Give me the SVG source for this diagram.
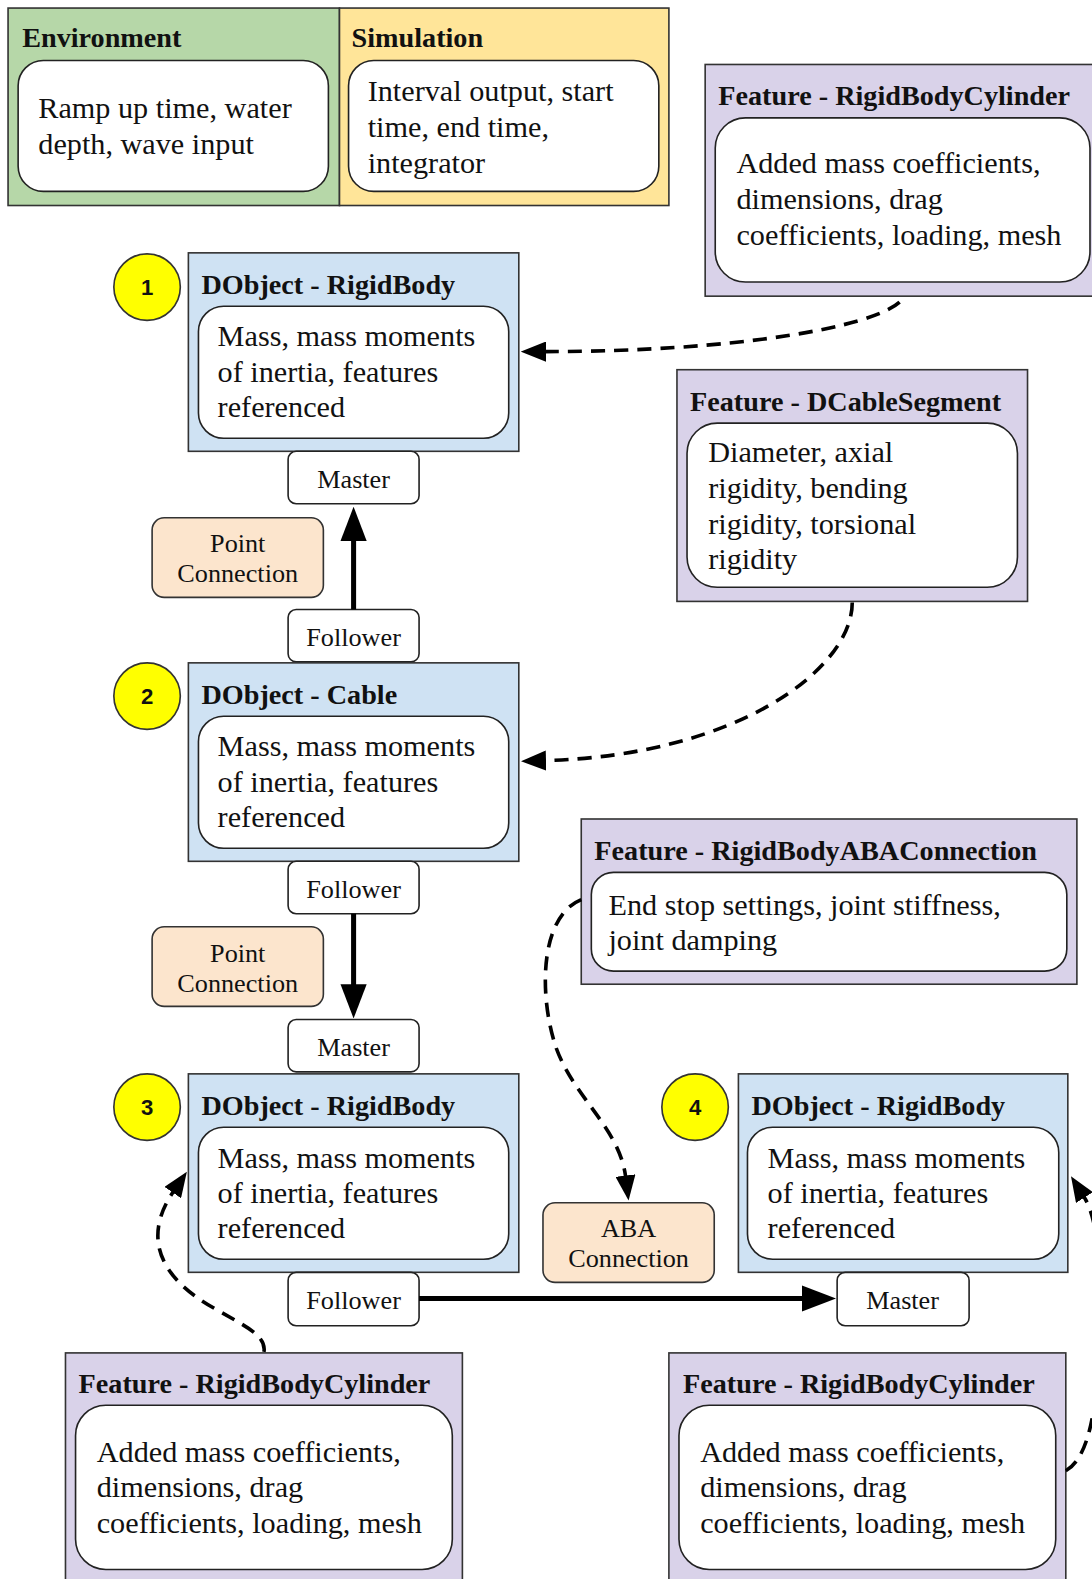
<svg xmlns="http://www.w3.org/2000/svg" width="1092" height="1579" viewBox="0 0 1092 1579">
<style>
.box{stroke:#333;stroke-width:1.6}
.env{fill:#b6d7a8}.sim{fill:#ffe599}.obj{fill:#cfe2f3}.feat{fill:#d9d2e9}.conn{fill:#fce5cd}
.inner{fill:#fff;stroke:#222;stroke-width:1.6}
.lbl{fill:#fff;stroke:#222;stroke-width:1.6}
.num{fill:#ffff00;stroke:#333;stroke-width:1.6}
.t{font-family:"Liberation Serif",serif;font-size:30px;fill:#111}
.h{font-family:"Liberation Serif",serif;font-size:28px;font-weight:bold;fill:#111}
.l{font-family:"Liberation Serif",serif;font-size:26px;fill:#111;text-anchor:middle}
.n{font-family:"Liberation Sans",sans-serif;font-size:22px;font-weight:bold;fill:#111;text-anchor:middle}
.solid{fill:none;stroke:#000;stroke-width:5}
.dash{fill:none;stroke:#000;stroke-width:3.6;stroke-dasharray:14 9}
</style>
<defs>
<marker id="aS" viewBox="0 0 34 26" markerWidth="34" markerHeight="26" refX="1" refY="13" orient="auto" markerUnits="userSpaceOnUse"><path d="M0,0 L34,13 L0,26 z" fill="#000"/></marker>
<marker id="aD" viewBox="0 0 25 20" markerWidth="25" markerHeight="20" refX="1" refY="10" orient="auto" markerUnits="userSpaceOnUse"><path d="M0,0 L25,10 L0,20 z" fill="#000"/></marker>
</defs>
<rect width="1092" height="1579" fill="#fff"/>
<g transform="scale(1.00738)">
<g id="environment">
<rect class="box env" x="8" y="8" width="329" height="196"/>
<text class="h" x="22" y="47">Environment</text>
<rect class="inner" x="18" y="60" width="308" height="130" rx="25"/>
<text class="t" x="38" y="117">Ramp up time, water</text>
<text class="t" x="38" y="153">depth, wave input</text>
</g>
<g id="simulation">
<rect class="box sim" x="337" y="8" width="327" height="196"/>
<text class="h" x="349" y="47">Simulation</text>
<rect class="inner" x="346" y="60" width="308" height="130" rx="25"/>
<text class="t" x="365" y="100">Interval output, start</text>
<text class="t" x="365" y="136">time, end time,</text>
<text class="t" x="365" y="172">integrator</text>
</g>
<g id="feature-cylinder-top">
<rect class="box feat" x="700" y="64" width="420" height="230"/>
<text class="h" x="713" y="104">Feature - RigidBodyCylinder</text>
<rect class="inner" x="710" y="117" width="372" height="163" rx="30"/>
<text class="t" x="731" y="172">Added mass coefficients,</text>
<text class="t" x="731" y="207">dimensions, drag</text>
<text class="t" x="731" y="243">coefficients, loading, mesh</text>
</g>
<g id="dobject-1">
<circle class="num" cx="146" cy="285" r="33"/>
<text class="n" x="146" y="293">1</text>
<rect class="box obj" x="187" y="251" width="328" height="197"/>
<text class="h" x="200" y="292">DObject - RigidBody</text>
<rect class="inner" x="197" y="304" width="308" height="131" rx="25"/>
<text class="t" x="216" y="343">Mass, mass moments</text>
<text class="t" x="216" y="379">of inertia, features</text>
<text class="t" x="216" y="414">referenced</text>
</g>
<g id="master-1">
<rect class="lbl" x="286" y="448" width="130" height="52" rx="8"/>
<text class="l" x="351" y="484">Master</text>
</g>
<g id="point-connection-1">
<rect class="box conn" x="151" y="514" width="170" height="79" rx="12"/>
<text class="l" x="236" y="548">Point</text>
<text class="l" x="236" y="578">Connection</text>
</g>
<g id="follower-1">
<rect class="lbl" x="286" y="605" width="130" height="52" rx="8"/>
<text class="l" x="351" y="641">Follower</text>
</g>
<g id="feature-cablesegment">
<rect class="box feat" x="672" y="367" width="348" height="230"/>
<text class="h" x="685" y="408">Feature - DCableSegment</text>
<rect class="inner" x="682" y="420" width="328" height="163" rx="30"/>
<text class="t" x="703" y="459">Diameter, axial</text>
<text class="t" x="703" y="494">rigidity, bending</text>
<text class="t" x="703" y="530">rigidity, torsional</text>
<text class="t" x="703" y="565">rigidity</text>
</g>
<g id="dobject-2">
<circle class="num" cx="146" cy="691" r="33"/>
<text class="n" x="146" y="699">2</text>
<rect class="box obj" x="187" y="658" width="328" height="197"/>
<text class="h" x="200" y="699">DObject - Cable</text>
<rect class="inner" x="197" y="711" width="308" height="131" rx="25"/>
<text class="t" x="216" y="750">Mass, mass moments</text>
<text class="t" x="216" y="786">of inertia, features</text>
<text class="t" x="216" y="821">referenced</text>
</g>
<g id="follower-2">
<rect class="lbl" x="286" y="855" width="130" height="52" rx="8"/>
<text class="l" x="351" y="891">Follower</text>
</g>
<g id="point-connection-2">
<rect class="box conn" x="151" y="920" width="170" height="79" rx="12"/>
<text class="l" x="236" y="955">Point</text>
<text class="l" x="236" y="985">Connection</text>
</g>
<g id="master-2">
<rect class="lbl" x="286" y="1012" width="130" height="52" rx="8"/>
<text class="l" x="351" y="1048">Master</text>
</g>
<g id="feature-aba">
<rect class="box feat" x="577" y="813" width="492" height="164"/>
<text class="h" x="590" y="854">Feature - RigidBodyABAConnection</text>
<rect class="inner" x="587" y="866" width="472" height="98" rx="22"/>
<text class="t" x="604" y="908">End stop settings, joint stiffness,</text>
<text class="t" x="604" y="943">joint damping</text>
</g>
<g id="dobject-3">
<circle class="num" cx="146" cy="1099" r="33"/>
<text class="n" x="146" y="1107">3</text>
<rect class="box obj" x="187" y="1066" width="328" height="197"/>
<text class="h" x="200" y="1107">DObject - RigidBody</text>
<rect class="inner" x="197" y="1119" width="308" height="131" rx="25"/>
<text class="t" x="216" y="1159">Mass, mass moments</text>
<text class="t" x="216" y="1194">of inertia, features</text>
<text class="t" x="216" y="1229">referenced</text>
</g>
<g id="follower-3">
<rect class="lbl" x="286" y="1263" width="130" height="53" rx="8"/>
<text class="l" x="351" y="1299">Follower</text>
</g>
<g id="aba-connection">
<rect class="box conn" x="539" y="1194" width="170" height="79" rx="12"/>
<text class="l" x="624" y="1228">ABA</text>
<text class="l" x="624" y="1258">Connection</text>
</g>
<g id="dobject-4">
<circle class="num" cx="690" cy="1099" r="33"/>
<text class="n" x="690" y="1107">4</text>
<rect class="box obj" x="733" y="1066" width="327" height="197"/>
<text class="h" x="746" y="1107">DObject - RigidBody</text>
<rect class="inner" x="742" y="1119" width="309" height="131" rx="25"/>
<text class="t" x="762" y="1159">Mass, mass moments</text>
<text class="t" x="762" y="1194">of inertia, features</text>
<text class="t" x="762" y="1229">referenced</text>
</g>
<g id="master-4">
<rect class="lbl" x="831" y="1263" width="131" height="53" rx="8"/>
<text class="l" x="896" y="1299">Master</text>
</g>
<g id="feature-cylinder-left">
<rect class="box feat" x="65" y="1343" width="394" height="260"/>
<text class="h" x="78" y="1383">Feature - RigidBodyCylinder</text>
<rect class="inner" x="75" y="1395" width="374" height="163" rx="30"/>
<text class="t" x="96" y="1451">Added mass coefficients,</text>
<text class="t" x="96" y="1486">dimensions, drag</text>
<text class="t" x="96" y="1522">coefficients, loading, mesh</text>
</g>
<g id="feature-cylinder-right">
<rect class="box feat" x="664" y="1343" width="394" height="260"/>
<text class="h" x="678" y="1383">Feature - RigidBodyCylinder</text>
<rect class="inner" x="674" y="1395" width="374" height="163" rx="30"/>
<text class="t" x="695" y="1451">Added mass coefficients,</text>
<text class="t" x="695" y="1486">dimensions, drag</text>
<text class="t" x="695" y="1522">coefficients, loading, mesh</text>
</g>
<g id="connectors">
<path class="solid" d="M351,605 L351,536" marker-end="url(#aS)"/>
<path class="solid" d="M351,907 L351,978" marker-end="url(#aS)"/>
<path class="solid" d="M416,1289 L797,1289" marker-end="url(#aS)"/>
<path class="dash" d="M893,300 C865,325 730,349 541,349" marker-end="url(#aD)"/>
<path class="dash" d="M846,598 C846,665 730,750 541,755" marker-end="url(#aD)"/>
<path class="dash" d="M577,893 C535,910 535,990 552,1040 C570,1090 615,1120 621,1168" marker-end="url(#aD)"/>
<path class="dash" d="M262,1342 C265,1325 240,1315 215,1300 C160,1270 140,1230 172,1183" marker-end="url(#aD)"/>
<path class="dash" d="M1058,1460 C1085,1445 1090,1380 1092,1320 C1094,1260 1090,1210 1076,1188" marker-end="url(#aD)"/>
</g>
</g>
</svg>
